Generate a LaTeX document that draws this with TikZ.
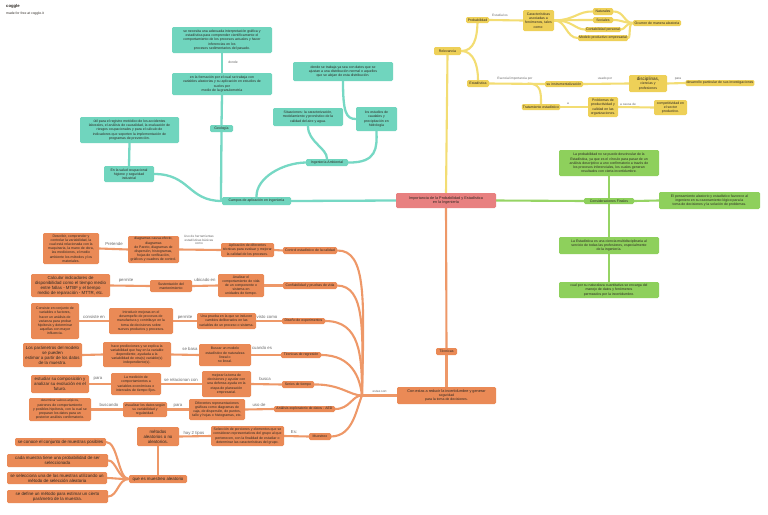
\documentclass[tikz,border=0pt]{standalone}
\usepackage{fontspec}
\setmainfont{Liberation Sans}
\usetikzlibrary{backgrounds}
\definecolor{tealf}{RGB}{112,213,190}
\definecolor{teall}{RGB}{118,216,196}
\definecolor{yelf}{RGB}{238,208,88}
\definecolor{yell}{RGB}{243,221,115}
\definecolor{grnf}{RGB}{142,208,92}
\definecolor{grnl}{RGB}{150,212,100}
\definecolor{orf}{RGB}{234,138,86}
\definecolor{orl}{RGB}{238,152,104}
\definecolor{redf}{RGB}{232,128,128}
\definecolor{txt}{RGB}{45,40,35}
\definecolor{lbl}{RGB}{105,105,105}
\newcommand\fa{\fontsize{3.5}{4.2}\selectfont}
\newcommand\fb{\fontsize{4.4}{5.0}\selectfont}
\newcommand\fl{\fontsize{3.2}{3.8}\selectfont}
\newcommand\flb{\fontsize{4.3}{5}\selectfont}
\newcommand\MMbox[7]{%
  \pgfmathsetmacro\MMcx{(#3+#5)/2}%
  \pgfmathsetmacro\MMcy{(#4+#6)/2}%
  \pgfmathsetmacro\MMw{#5-#3}%
  \pgfmathsetmacro\MMh{#6-#4}%
  \node[#1, minimum width=\MMw pt, minimum height=\MMh pt] (#2) at (\MMcx,\MMcy) {#7};}
\tikzset{
  bx/.style={rounded corners=1.3pt, align=center, inner xsep=1pt, inner ysep=0.3pt, font=\fa, text=txt},
  tb/.style={bx, fill=tealf},
  yb/.style={bx, fill=yelf},
  gb/.style={bx, fill=grnf},
  ob/.style={bx, fill=orf},
  obb/.style={bx, fill=orf, font=\fb},
  rb/.style={bx, fill=redf, font=\fontsize{3.8}{4.5}\selectfont},
  lab/.style={font=\fl, text=lbl, inner sep=0.3pt, align=center},
  labb/.style={font=\flb, text=lbl, inner sep=0.3pt, align=center},
  tl/.style={draw=teall, line width=2.3pt, line cap=round},
  yl/.style={draw=yell, line width=2.1pt, line cap=round},
  gl/.style={draw=grnl, line width=2.1pt, line cap=round},
  ol/.style={draw=orl, line width=2.1pt, line cap=round},
}
\begin{document}
\begin{tikzpicture}[x=1pt,y=-1pt]
\useasboundingbox (0,0) rectangle (768,514);
% logo
\node[anchor=west, inner sep=0, font=\fontsize{4.2}{5}\selectfont\bfseries, text=txt] (logo) at (6,6) {coggle};
\node[anchor=west, inner sep=0, font=\fontsize{3.4}{4}\selectfont, text=txt] (made) at (6,14) {made for free at coggle.it};

\coordinate (J) at (362,395.5);
% teal nodes
\MMbox{tb}{t1}{172}{27}{272}{53}{se necesita una adecuada interpretación gráfica y\\estadística para comprender científicamente el\\comportamiento de los procesos actuales y hacer\\inferencias en los\\procesos sedimentarios del pasado.}
\MMbox{tb}{t2}{172}{73}{272}{95}{en la formación por el cual se trabaja con\\variables aleatorias y su aplicación en estudios de\\suelos por\\medio de la granulometría}
\MMbox{tb}{geo}{210}{125}{233}{132}{Geología}
\MMbox{tb}{t4}{80}{117}{179}{143}{útil para el registro metódico de los accidentes\\laborales, el análisis de causalidad, la evaluación de\\riesgos ocupacionales y para el cálculo de\\indicadores que soporten la implementación de\\programas de prevención.}
\MMbox{tb}{sal}{104}{166}{154}{182}{En la salud ocupacional\\higiene y seguridad\\industrial}
\MMbox{tb}{camp}{222}{197}{291}{205}{Campos de aplicación en ingeniería}
\MMbox{tb}{t7}{293}{62}{393}{81}{donde se trabaja ya sea con datos que se\\ajustan a una distribución normal o aquellos\\que se alejan de esta distribución.}
\MMbox{tb}{sit}{273}{108}{343}{126}{Situaciones: la caracterización,\\modelamiento y pronóstico de la\\calidad del aire y agua.}
\MMbox{tb}{est}{356}{107}{397}{131}{los estudios de\\caudales y\\precipitación en\\hidrología}
\MMbox{tb}{amb}{306}{159}{348}{166}{Ingeniería Ambiental}
% central
\MMbox{rb}{cen}{396}{193}{496}{208}{Importancia de la Probabilidad y Estadística\\en la Ingeniería}
% yellow
\MMbox{yb}{rel}{434}{47}{461}{55}{Relevancia}
\MMbox{yb}{prob}{466}{17}{489}{23}{Probabilidad}
\MMbox{yb}{car}{523}{10}{554}{31}{Características\\asociadas a\\fenómenos, tales\\como:}
\MMbox{yb}{nat}{593}{8}{613}{15}{Naturales}
\MMbox{yb}{soc}{593}{17}{613}{23}{Sociales}
\MMbox{yb}{cont}{587}{27}{619}{32}{Contabilidad personal}
\MMbox{yb}{mod}{579}{35}{627}{41}{Modelo productivo empresarial}
\MMbox{yb}{ocu}{633}{20}{681}{26}{Ocurren de manera aleatoria}
\MMbox{yb}{estd}{467}{80}{489}{87}{Estadística}
\MMbox{yb}{ins}{545}{81}{583}{87}{su instrumentalización}
\MMbox{yb}{disc}{629}{75}{667}{92}{\fontsize{4.6}{5.3}\selectfont disciplinas,\\ciencias y\\profesiones}
\MMbox{yb}{des}{686}{80}{754}{86}{desarrollo particular de sus investigaciones}
\MMbox{yb}{trat}{522}{104}{560}{110}{Tratamiento estadístico}
\MMbox{yb}{prb}{588}{97}{618}{117}{Problemas de\\productividad y\\calidad en las\\organizaciones.}
\MMbox{yb}{comp}{654}{100}{687}{115}{competitividad en\\el sector\\productivo.}
% green
\MMbox{gb}{g1}{559}{150}{659}{176}{La probabilidad no se puede desvincular de la\\Estadística, ya que es el vínculo para pasar de un\\análisis descriptivo a uno confirmatorio a través de\\los procesos inferenciales, los cuales generan\\resultados con cierta incertidumbre.}
\MMbox{gb}{cons}{584}{198}{634}{204}{Consideraciones Finales}
\MMbox{gb}{g2}{659}{192}{760}{209}{El pensamiento aleatorio y estadístico favorece al\\ingeniero en su razonamiento lógico para la\\toma de decisiones y la solución de problemas.}
\MMbox{gb}{g3}{559}{237}{659}{254}{La Estadística es una ciencia multidisciplinaria al\\servicio de todas las profesiones, especialmente\\de la ingeniería.}
\MMbox{gb}{g4}{559}{282}{659}{298}{cual por su naturaleza cuantitativa se encarga del\\manejo de datos y fenómenos\\permeados por la incertidumbre.}
% orange
\MMbox{ob}{tec}{436}{348}{457}{355}{Técnicas}
\MMbox{ob}{con}{397}{387}{496}{404}{\fontsize{3.8}{4.5}\selectfont Con estas a reducir la incertidumbre y generar\\seguridad\\para la toma de decisiones.}
\MMbox{ob}{ctrl}{283}{247}{337}{254}{Control estadístico de la calidad}
\MMbox{ob}{conf}{283}{282}{337}{289}{Confiabilidad y pruebas de vida}
\MMbox{ob}{dis}{282}{318}{325}{324}{Diseño de experimentos}
\MMbox{ob}{reg}{281}{352}{321}{358}{Técnicas de regresión}
\MMbox{ob}{ser}{282}{381}{314}{388}{Series de tiempo}
\MMbox{ob}{aed}{274}{406}{335}{412}{Análisis exploratorio de datos - AED}
\MMbox{ob}{mue}{309}{433}{331}{440}{Muestreo}
% row 1
\MMbox{ob}{r1a}{43}{233}{99}{264}{Describir, comprender y\\controlar la variabilidad, la\\cual está relacionada con la\\maquinaria, la mano de obra,\\las mediciones, el medio\\ambiente los métodos y los\\materiales.}
\MMbox{ob}{r1b}{128}{236}{179}{263}{diagramas causa-efecto,\\diagramas\\de Pareto, diagramas de\\dispersión, histogramas,\\hojas de verificación,\\gráficos y cuadros de control.}
\MMbox{ob}{r1c}{221}{243}{274}{257}{Aplicación de diferentes\\técnicas para evaluar y mejorar\\la calidad de los procesos.}
% row 2
\MMbox{obb}{r2a}{31}{274}{110}{297}{Calcular indicadores de\\disponibilidad como el tiempo medio\\entre fallas - MTBF y el tiempo\\medio de reparación - MTTR, etc.}
\MMbox{ob}{r2b}{150}{280}{192}{292}{Sustentación del\\mantenimiento}
\MMbox{ob}{r2c}{218}{274}{264}{297}{Analizar el\\comportamiento de vida\\de un componente o\\sistema en\\unidades de tiempo.}
% row 3
\MMbox{ob}{r3a}{31}{303}{79}{339}{Consiste en conjunto de\\variables o factores,\\hacer un análisis de\\varianza para probar\\hipótesis y determinar\\aquellas con mayor\\influencia.}
\MMbox{ob}{r3b}{109}{308}{173}{334}{Introducir mejoras en el\\desempeño de procesos de\\manufactura y contribuye en la\\toma de decisiones sobre\\nuevos productos y procesos.}
\MMbox{ob}{r3c}{197}{313}{256}{329}{Una prueba en la que se inducen\\cambios deliberados en las\\variables de un proceso o sistema.}
% row 4
\MMbox{obb}{r4a}{23}{343}{82}{367}{Los parámetros del modelo\\se pueden\\estimar a partir de los datos\\de la muestra.}
\MMbox{ob}{r4b}{103}{342}{171}{367}{hace predicciones y se explica la\\variabilidad que hay en la variable\\dependiente, ayudada a la\\variabilidad de otra(s) variable(s)\\independiente(s).}
\MMbox{ob}{r4c}{199}{344}{251}{366}{Buscar un modelo\\estadístico de naturaleza\\lineal o\\no lineal.}
% row 5
\MMbox{obb}{r5a}{31}{375}{89}{393}{estudiar su composición y\\analizar su evolución en el\\futuro.}
\MMbox{ob}{r5b}{111}{373}{161}{395}{La medición de\\comportamientos a\\variables económicas o\\intervalos de tiempo fijos.}
\MMbox{ob}{r5c}{202}{371}{251}{397}{mejorar la toma de\\decisiones y ayudar con\\una defensa ayuda en la\\etapa de planeación\\empresarial.}
% row 6
\MMbox{ob}{r6a}{29}{398}{91}{421}{\fontsize{3.1}{3.9}\selectfont determinar valores atípicos,\\patrones de comportamiento\\y posibles hipótesis, con la cual se\\preparan los datos para un\\posterior análisis confirmatorio.}
\MMbox{ob}{r6b}{123}{402}{167}{417}{visualizar los datos según\\su variabilidad y\\regularidad.}
\MMbox{ob}{r6c}{189}{399}{245}{420}{Diferentes representaciones\\gráficas como diagramas de\\caja, de dispersión, de puntos,\\tallo y hojas o histogramas, etc.}
% row 7
\MMbox{obb}{met}{137}{427}{179}{446}{métodos\\aleatorios o no\\aleatorios.}
\MMbox{ob}{dep}{211}{426}{284}{446}{Selección de porciones y elementos que se\\consideran representativos del grupo al que\\pertenecen, con la finalidad de estudiar o\\determinar las características del grupo.}
\MMbox{obb}{qm}{129}{475}{187}{483}{que es muestreo aleatorio}
\MMbox{obb}{l1}{15}{438}{106}{446}{se conoce el conjunto de muestras posibles}
\MMbox{obb}{l2}{7}{454}{108}{467}{cada muestra tiene una probabilidad de ser\\seleccionada}
\MMbox{obb}{l3}{7}{472}{107}{484}{se selecciona una de las muestras utilizando un\\método de selección aleatoria}
\MMbox{obb}{l4}{7}{490}{108}{503}{se define un método para estimar un cierto\\parámetro de la muestra.}

% ---------- connectors ----------
\begin{pgfonlayer}{background}
\fill[white] (0,0) rectangle (768,514);
% teal
\draw[tl] (t1.south) -- (t2.north);
\draw[tl] (t2.south) -- (geo.north);
\draw[tl] (geo.south) -- (221,195) .. controls (221,200) .. (camp.west);
\draw[tl] (t4.south) -- (sal.north);
\draw[tl] (sal.east) .. controls (190,174) and (188,201) .. (camp.west);
\draw[tl] (camp.north) .. controls (256,178) and (282,163) .. (amb.west);
\draw[tl] (amb.north) .. controls (327,148) and (308,142) .. (sit.south);
\draw[tl] (amb.east) .. controls (377,163) and (377,148) .. (est.south);
\draw[tl] (t7.south) .. controls (343,112) and (346,119) .. (est.west);
\draw[tl] (cen.west) -- (camp.east);
% yellow
\draw[yl] (cen.north) -- (rel.south);
\draw[yl] (rel.east) .. controls (474,51) and (477,38) .. (prob.south);
\draw[yl] (rel.east) .. controls (474,51) and (478,66) .. (estd.north);
\draw[yl] (prob.east) -- (car.west);
\draw[yl] (car.east) .. controls (575,20) and (578,11) .. (nat.west);
\draw[yl] (car.east) .. controls (575,20) and (580,20) .. (soc.west);
\draw[yl] (car.east) .. controls (572,20) and (575,29.5) .. (cont.west);
\draw[yl] (car.east) .. controls (566,20) and (566,38) .. (mod.west);
\draw[yl] (nat.east) .. controls (624,11) and (624,23) .. (ocu.west);
\draw[yl] (soc.east) .. controls (622,20) and (624,23) .. (ocu.west);
\draw[yl] (cont.east) .. controls (625,29.5) and (626,23) .. (ocu.west);
\draw[yl] (mod.east) .. controls (631,38) and (628,23) .. (ocu.west);
\draw[yl] (estd.east) -- (ins.west);
\draw[yl] (528,83.5) .. controls (541,83.5) and (541,92) .. (trat.north);
\draw[yl] (trat.east) -- (prb.west);
\draw[yl] (prb.east) -- (comp.west);
\draw[yl] (ins.east) -- (disc.west);
\draw[yl] (disc.east) -- (des.west);
% green
\draw[gl] (cen.east) -- (cons.west);
\draw[gl] (cons.north) -- (g1.south);
\draw[gl] (cons.east) -- (g2.west);
\draw[gl] (cons.south) -- (g3.north);
\draw[gl] (g3.south) -- (g4.north);
% orange trunk
\draw[ol] (cen.south) -- (tec.north);
\draw[ol] (tec.south) -- (con.north);
\draw[ol] (J) -- (con.west);
\draw[ol] (ctrl.east) .. controls (367,250) and (364,300) .. (J);
\draw[ol] (conf.east) .. controls (365,286) and (363,330) .. (J);
\draw[ol] (dis.east) .. controls (360,321) and (362,355) .. (J);
\draw[ol] (reg.east) .. controls (352,355) and (360,378) .. (J);
\draw[ol] (ser.east) .. controls (340,384) and (350,395.5) .. (J);
\draw[ol] (aed.east) .. controls (350,409) and (352,395.5) .. (J);
\draw[ol] (mue.east) .. controls (353,436) and (356,410) .. (J);
% rows
\draw[ol] (r1a.east) -- (r1b.west);
\draw[ol] (r1b.east) -- (r1c.west);
\draw[ol] (r1c.east) -- (ctrl.west);
\draw[ol] (r2a.east) -- (r2b.west);
\draw[ol] (r2b.east) -- (r2c.west);
\draw[ol] (r2c.east) -- (conf.west);
\draw[ol] (r3a.east) -- (r3b.west);
\draw[ol] (r3b.east) -- (r3c.west);
\draw[ol] (r3c.east) -- (dis.west);
\draw[ol] (r4a.east) -- (r4b.west);
\draw[ol] (r4b.east) -- (r4c.west);
\draw[ol] (r4c.east) -- (reg.west);
\draw[ol] (r5a.east) -- (r5b.west);
\draw[ol] (r5b.east) -- (r5c.west);
\draw[ol] (r5c.east) -- (ser.west);
\draw[ol] (r6a.east) -- (r6b.west);
\draw[ol] (r6b.east) -- (r6c.west);
\draw[ol] (r6c.east) -- (aed.west);
\draw[ol] (met.east) -- (dep.west);
\draw[ol] (dep.east) -- (mue.west);
\draw[ol] (met.south) -- (qm.north);
\draw[ol] (qm.west) .. controls (118,479) and (118,442) .. (l1.east);
\draw[ol] (qm.west) .. controls (118,479) and (116,460) .. (l2.east);
\draw[ol] (qm.west) .. controls (118,479) and (112,478) .. (l3.east);
\draw[ol] (qm.west) .. controls (118,479) and (118,496) .. (l4.east);
\end{pgfonlayer}

% ---------- labels ----------
\node[lab, font=\fontsize{3.4}{4}\selectfont] (ldonde) at (233,62) {donde};
\node[lab] (lestu) at (500,15) {Estudia los};
\node[lab] (lesen) at (515,79) {Esencial importancia por};
\node[lab] (lusado) at (605,79) {usado por};
\node[lab] (lpara) at (678,79) {para};
\node[lab] (la) at (568,104) {a};
\node[lab] (lcausa) at (628,104) {a causa de};
\node[lab] (lestas) at (380,391) {estas son:};
\node[labb] (lprot) at (114,244) {Pretende};
\node[lab] (luso) at (199,240) {Uso de herramientas\\estadísticas básicas\\como};
\node[labb] (lperm) at (126,280) {permite};
\node[labb] (lubic) at (205,280) {ubicado en};
\node[labb] (lcons) at (94,317) {consiste en};
\node[labb] (lperm2) at (185,317) {permite};
\node[labb] (lvisto) at (267,317) {visto como};
\node[labb] (lbasa) at (190,349) {se basa};
\node[labb] (lcuando) at (262,348) {cuando es};
\node[labb] (lpara2) at (98,379) {para};
\node[labb] (lrel) at (181,380) {se relacionan con};
\node[labb] (lbusca) at (265,379) {busca};
\node[labb] (lbusc) at (109,405) {buscando};
\node[labb] (lpara3) at (178,406) {para};
\node[labb] (lusode) at (259,405) {uso de};
\node[labb] (lhay) at (194,433) {hay 2 tipos};
\node[labb] (les) at (294,432) {Es:};
\end{tikzpicture}
\end{document}
